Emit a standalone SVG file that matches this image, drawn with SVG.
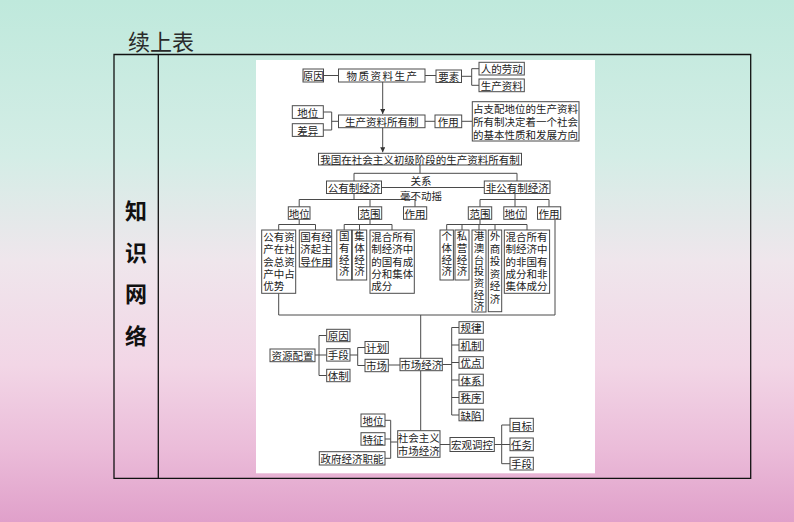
<svg xmlns="http://www.w3.org/2000/svg" width="794" height="522" viewBox="0 0 794 522">
<defs>
<linearGradient id="bg" x1="0" y1="0" x2="0" y2="1">
<stop offset="0" stop-color="#bfe9dc"/>
<stop offset="0.3" stop-color="#d4ede6"/>
<stop offset="0.5" stop-color="#efe6ec"/>
<stop offset="0.7" stop-color="#f2d6e6"/>
<stop offset="0.86" stop-color="#ebbcd9"/>
<stop offset="1" stop-color="#e0a0ca"/>
</linearGradient>
<marker id="ar" viewBox="0 0 6 6" refX="6" refY="3" markerWidth="5" markerHeight="5" orient="auto">
<path d="M0,0 L6,3 L0,6 z" fill="#333"/>
</marker>
<style>
.b{fill:#fff;stroke:#4a4a4a;stroke-width:1}
.t{font-family:"Noto Sans CJK SC","Noto Sans",sans-serif;font-size:10.5px;fill:#222;text-anchor:middle;dominant-baseline:central}
.l{text-anchor:start}
.v{writing-mode:vertical-rl;text-anchor:start;letter-spacing:1.2px}
.c{stroke:#4a4a4a;stroke-width:1;fill:none}
.tb{stroke:#111;stroke-width:1.3;fill:none}
</style>
</defs>
<rect x="0" y="0" width="794" height="522" fill="url(#bg)"/>
<text x="128" y="50" style="font-family:'Noto Sans CJK SC',sans-serif;font-size:22px;fill:#2a2a2a">续上表</text>
<g id="table">
<path class="tb" d="M114,54.5 H750.7 V478.3 H114 Z M158.3,54.5 V478.3"/>
<rect x="256" y="60" width="339" height="413.3" fill="#fff"/>
</g>
<g id="side" style="font-family:'Noto Sans CJK SC',sans-serif;font-size:22px;font-weight:700;fill:#111;text-anchor:middle">
<text x="136" y="219">知</text>
<text x="136" y="261">识</text>
<text x="136" y="302">网</text>
<text x="136" y="344">络</text>
</g>
<g id="connectors">
<path class="c" d="M323.5,75.5 H338.5 M425,75.5 H436 M461.5,76.3 H471.7 M479,68.7 H471.7 V85.3 H479"/>
<path class="c" d="M382.7,82 V114" marker-end="url(#ar)"/>
<path class="c" d="M323.3,112 H331.7 V130 H323.3 M331.7,121.3 H338.5 M425,121.3 H435 M461.7,121.3 H472.3"/>
<path class="c" d="M382.7,127.7 V152.3" marker-end="url(#ar)"/>
<path class="c" d="M420,165 V173.3 M354,181 V173.3 H517 V181 M381.5,187.5 H484.3"/>
<path class="c" d="M354,193.5 V199.5 M299.2,206.8 V199.5 H415 V206.8 M370,199.5 V206.8"/>
<path class="c" d="M515,193.5 V206.8 M480,206.8 V199.5 H549 V206.8"/>
<path class="c" d="M299.2,219.3 V224.5 M278.7,230 V224.5 H315.5 V230"/>
<path class="c" d="M370,219.3 V224.5 M344.2,230 V224.5 H392 V230 M359.5,224.5 V230"/>
<path class="c" d="M480,219.3 V224.5 M446.7,230 V224.5 H527 V230 M462,224.5 V230 M479,224.5 V230 M495,224.5 V230"/>
<path class="c" d="M555,219.3 V315 H278.7 V293.3 M420.7,315 V358.3 M420.7,370.7 V430.7"/>
<path class="c" d="M315,355 H319 M326.7,335.5 H319 V375.5 H326.7 M319,355 H326.7"/>
<path class="c" d="M350,355 H357.7 M365,347.5 H357.7 V365.5 H365 M388.3,365 H400"/>
<path class="c" d="M442.3,364.5 H451.7 M459,327.5 H451.7 V415 H459 M451.7,345 H459 M451.7,362.5 H459 M451.7,380 H459 M451.7,397.5 H459"/>
<path class="c" d="M385,420.3 H390.7 V458.3 H385 M385,439 H390.7 M390.7,442 H397.7"/>
<path class="c" d="M440,444.5 H450 M494.3,444.5 H501.7 M510,425 H501.7 V463.7 H510 M501.7,444.5 H510"/>
</g>
<g id="n-yuanyin"><rect class="b" x="303" y="69" width="20.5" height="13"/><text class="t" x="313.3" y="75.5">原因</text></g>
<g id="n-wuzhi"><rect class="b" x="338.5" y="69" width="86.5" height="13"/><text class="t" x="382.5" y="75.5" letter-spacing="1.5">物质资料生产</text></g>
<g id="n-yaosu"><rect class="b" x="436" y="70" width="25.5" height="12.5"/><text class="t" x="448.7" y="76.3">要素</text></g>
<g id="n-laodong"><rect class="b" x="479" y="62.3" width="45.3" height="12.7"/><text class="t" x="501.7" y="68.7">人的劳动</text></g>
<g id="n-ziliao"><rect class="b" x="479" y="79" width="45.3" height="12.7"/><text class="t" x="501.7" y="85.3">生产资料</text></g>
<g id="n-diwei1"><rect class="b" x="292.3" y="105.7" width="31" height="12.7"/><text class="t" x="307.8" y="112">地位</text></g>
<g id="n-chayi"><rect class="b" x="292.3" y="123.7" width="31" height="12.7"/><text class="t" x="307.8" y="130">差异</text></g>
<g id="n-suoyouzhi"><rect class="b" x="338.5" y="115" width="86.5" height="12.7"/><text class="t" x="381.7" y="121.3">生产资料所有制</text></g>
<g id="n-zuoyong1"><rect class="b" x="435" y="115" width="26.7" height="12.7"/><text class="t" x="448.3" y="121.3">作用</text></g>
<g id="n-jueding"><rect class="b" x="472.3" y="101.7" width="106.7" height="39.3"/><text class="t" x="525.6" y="108.6">占支配地位的生产资料</text><text class="t" x="525.6" y="121.3">所有制决定着一个社会</text><text class="t" x="525.6" y="134">的基本性质和发展方向</text></g>
<g id="n-woguo"><rect class="b" x="318.5" y="153.3" width="203" height="11.7"/><text class="t" x="420" y="159.2">我国在社会主义初级阶段的生产资料所有制</text></g>
<g id="n-gongyou"><rect class="b" x="326.5" y="181" width="55" height="12.5"/><text class="t" x="354" y="187.3">公有制经济</text></g>
<g id="n-feigong"><rect class="b" x="484.3" y="181" width="65.7" height="12.5"/><text class="t" x="517.2" y="187.3">非公有制经济</text></g>
<g id="lbl-guanxi"><text class="t" x="421" y="180">关系</text><text class="t" x="421" y="195">毫不动摇</text></g>
<g id="n-diwei2"><rect class="b" x="288.3" y="206.8" width="21.7" height="12.5"/><text class="t" x="299.2" y="213">地位</text></g>
<g id="n-fanwei1"><rect class="b" x="358.5" y="206.8" width="23.2" height="12.5"/><text class="t" x="370" y="213">范围</text></g>
<g id="n-zuoyong2"><rect class="b" x="403.5" y="206.8" width="23.2" height="12.5"/><text class="t" x="415" y="213">作用</text></g>
<g id="n-fanwei2"><rect class="b" x="468.3" y="206.8" width="23.4" height="12.5"/><text class="t" x="480" y="213">范围</text></g>
<g id="n-diwei3"><rect class="b" x="503.8" y="206.8" width="22.4" height="12.5"/><text class="t" x="515" y="213">地位</text></g>
<g id="n-zuoyong3"><rect class="b" x="537.5" y="206.8" width="23.2" height="12.5"/><text class="t" x="549" y="213">作用</text></g>
<g id="n-youshi"><rect class="b" x="261.7" y="230" width="34" height="63.3"/><text class="t l" x="263.2" y="236.5">公有资</text><text class="t l" x="263.2" y="248.8">产在社</text><text class="t l" x="263.2" y="261.1">会总资</text><text class="t l" x="263.2" y="273.4">产中占</text><text class="t l" x="263.2" y="285.7">优势</text></g>
<g id="n-zhudao"><rect class="b" x="299.3" y="230" width="32.4" height="37"/><text class="t l" x="300.2" y="236.5">国有经</text><text class="t l" x="300.2" y="248.8">济起主</text><text class="t l" x="300.2" y="261.1">导作用</text></g>
<g id="n-guoyou"><rect class="b" x="336.8" y="230" width="14.8" height="50"/><text class="t v" x="344.2" y="231">国有经济</text></g>
<g id="n-jiti"><rect class="b" x="352.3" y="230" width="14.4" height="50"/><text class="t v" x="359.5" y="231">集体经济</text></g>
<g id="n-hunhe1"><rect class="b" x="370" y="230" width="44.3" height="63.3"/><text class="t l" x="371.3" y="236.5">混合所有</text><text class="t l" x="371.3" y="248.8">制经济中</text><text class="t l" x="371.3" y="261.1">的国有成</text><text class="t l" x="371.3" y="273.4">分和集体</text><text class="t l" x="371.3" y="285.7">成分</text></g>
<g id="n-geti"><rect class="b" x="440" y="230" width="13.4" height="50"/><text class="t v" x="446.7" y="231">个体经济</text></g>
<g id="n-siying"><rect class="b" x="455" y="230" width="14" height="50"/><text class="t v" x="462" y="231">私营经济</text></g>
<g id="n-gangaotai"><rect class="b" x="472" y="230" width="14" height="82"/><text class="t v" x="479" y="231">港澳台投资经济</text></g>
<g id="n-waishang"><rect class="b" x="488.3" y="230" width="13.4" height="81.7"/><text class="t v" x="495" y="231" style="letter-spacing:2px">外商投资经济</text></g>
<g id="n-hunhe2"><rect class="b" x="504.3" y="230" width="45.3" height="63.3"/><text class="t l" x="505.5" y="236.5">混合所有</text><text class="t l" x="505.5" y="248.8">制经济中</text><text class="t l" x="505.5" y="261.1">的非国有</text><text class="t l" x="505.5" y="273.4">成分和非</text><text class="t l" x="505.5" y="285.7">集体成分</text></g>
<g id="n-ziyuan"><rect class="b" x="270" y="349" width="45" height="12.7"/><text class="t" x="292.5" y="355.3">资源配置</text></g>
<g id="n-yuanyin2"><rect class="b" x="326.7" y="329.3" width="23.3" height="12.4"/><text class="t" x="338.3" y="335.5">原因</text></g>
<g id="n-shouduan1"><rect class="b" x="326.7" y="348.7" width="23.3" height="12.4"/><text class="t" x="338.3" y="354.9">手段</text></g>
<g id="n-tizhi"><rect class="b" x="326.7" y="369.3" width="23.3" height="12.4"/><text class="t" x="338.3" y="375.5">体制</text></g>
<g id="n-jihua"><rect class="b" x="365" y="341.5" width="23.3" height="12"/><text class="t" x="376.6" y="347.5">计划</text></g>
<g id="n-shichang"><rect class="b" x="365" y="359.3" width="23.3" height="12.4"/><text class="t" x="376.6" y="365.5">市场</text></g>
<g id="n-scjj"><rect class="b" x="400" y="358.3" width="42.3" height="12.4"/><text class="t" x="421.2" y="364.5">市场经济</text></g>
<g id="n-guilv"><rect class="b" x="459" y="321.7" width="24.3" height="11.6"/><text class="t" x="471.1" y="327.5">规律</text></g>
<g id="n-jizhi"><rect class="b" x="459" y="339.2" width="24.3" height="11.6"/><text class="t" x="471.1" y="345">机制</text></g>
<g id="n-youdian"><rect class="b" x="459" y="356.7" width="24.3" height="11.6"/><text class="t" x="471.1" y="362.5">优点</text></g>
<g id="n-tixi"><rect class="b" x="459" y="374.2" width="24.3" height="11.6"/><text class="t" x="471.1" y="380">体系</text></g>
<g id="n-zhixu"><rect class="b" x="459" y="391.7" width="24.3" height="11.6"/><text class="t" x="471.1" y="397.5">秩序</text></g>
<g id="n-quexian"><rect class="b" x="459" y="409.2" width="24.3" height="11.6"/><text class="t" x="471.1" y="415">缺陷</text></g>
<g id="n-diwei4"><rect class="b" x="361" y="414" width="24" height="12.7"/><text class="t" x="373" y="420.3">地位</text></g>
<g id="n-tezheng"><rect class="b" x="361" y="432.7" width="24" height="12.5"/><text class="t" x="373" y="439">特征</text></g>
<g id="n-zhineng"><rect class="b" x="319.3" y="451.7" width="65.7" height="13.3"/><text class="t" x="352.1" y="458.3">政府经济职能</text></g>
<g id="n-shzy"><rect class="b" x="397.7" y="430.7" width="42.3" height="26.6"/><text class="t" x="418.8" y="437.5">社会主义</text><text class="t" x="418.8" y="450.3">市场经济</text></g>
<g id="n-hongguan"><rect class="b" x="450" y="437.5" width="44.3" height="14"/><text class="t" x="472.1" y="444.5">宏观调控</text></g>
<g id="n-mubiao"><rect class="b" x="510" y="418.3" width="23.3" height="13.3"/><text class="t" x="521.6" y="425">目标</text></g>
<g id="n-renwu"><rect class="b" x="510" y="438" width="23.3" height="12.7"/><text class="t" x="521.6" y="444.5">任务</text></g>
<g id="n-shouduan2"><rect class="b" x="510" y="457.3" width="23.3" height="12.7"/><text class="t" x="521.6" y="463.7">手段</text></g>
</svg>
